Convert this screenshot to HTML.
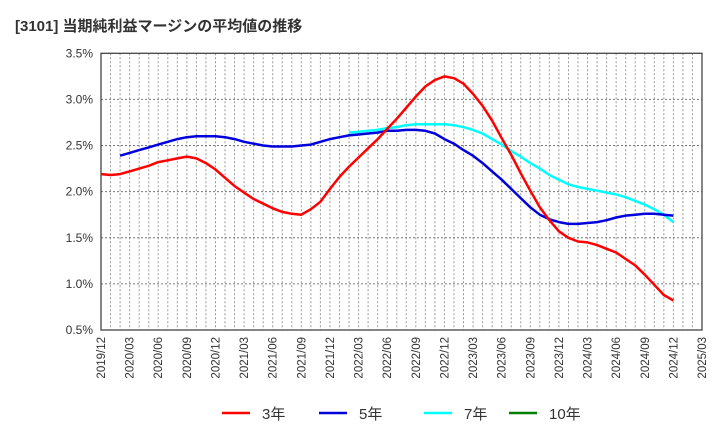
<!DOCTYPE html>
<html><head><meta charset="utf-8"><style>
body{margin:0;background:#fff;}
svg text{font-family:"Liberation Sans","Noto Sans CJK JP",sans-serif;}
</style></head><body>
<svg id="c" width="720" height="440" xmlns="http://www.w3.org/2000/svg">
<text x="15" y="31" font-size="15" font-weight="bold" fill="#333">[3101]  当期純利益マージンの平均値の推移</text>
<g id="grid"></g><g id="axes"></g><g id="series"></g><g id="legend"></g>
</svg>
<script>
const xLabels=["2019/12","2020/03","2020/06","2020/09","2020/12","2021/03","2021/06","2021/09","2021/12","2022/03","2022/06","2022/09","2022/12","2023/03","2023/06","2023/09","2023/12","2024/03","2024/06","2024/09","2024/12","2025/03"];
const yTicks=[0.5,1.0,1.5,2.0,2.5,3.0,3.5];
const s3=[2.19,2.18,2.19,2.22,2.25,2.28,2.32,2.34,2.36,2.38,2.36,2.31,2.24,2.15,2.06,1.99,1.92,1.87,1.82,1.78,1.76,1.75,1.81,1.89,2.03,2.16,2.27,2.37,2.47,2.57,2.68,2.79,2.91,3.03,3.14,3.21,3.25,3.23,3.17,3.06,2.93,2.77,2.58,2.40,2.20,2.01,1.83,1.69,1.57,1.50,1.46,1.45,1.42,1.38,1.34,1.27,1.20,1.10,0.99,0.88,0.82];
const s5=[null,null,2.39,2.42,2.45,2.48,2.51,2.54,2.57,2.59,2.60,2.60,2.60,2.59,2.57,2.54,2.52,2.50,2.49,2.49,2.49,2.50,2.51,2.54,2.57,2.59,2.61,2.62,2.63,2.64,2.66,2.66,2.67,2.67,2.66,2.63,2.57,2.52,2.45,2.39,2.31,2.22,2.13,2.03,1.93,1.83,1.75,1.70,1.67,1.65,1.65,1.66,1.67,1.69,1.72,1.74,1.75,1.76,1.76,1.75,1.74];
const s7start=26;
const s7=[2.64,2.65,2.66,2.67,2.69,2.70,2.72,2.73,2.73,2.73,2.73,2.72,2.70,2.67,2.63,2.57,2.51,2.44,2.38,2.31,2.25,2.18,2.13,2.08,2.05,2.03,2.01,1.99,1.97,1.94,1.90,1.86,1.81,1.75,1.67];
const s10=[];
const L=101,R=702,T=53.3,B=330,NM=63;
const NS="http://www.w3.org/2000/svg";
function xS(i){return L+(R-L)*i/NM;}
function yS(v){return B-(v-0.5)/3.0*(B-T);}
function mk(tag,attrs,parent){const e=document.createElementNS(NS,tag);for(const k in attrs)e.setAttribute(k,attrs[k]);parent.appendChild(e);return e;}
const grid=document.getElementById('grid'),axes=document.getElementById('axes'),ser=document.getElementById('series'),leg=document.getElementById('legend');
for(let m=1;m<NM;m++){const l=mk('line',{x1:xS(m),x2:xS(m),y1:T,y2:B,stroke:'#999','stroke-dasharray':'2,2','stroke-width':1},grid);

}
yTicks.forEach(v=>{const y=yS(v);
if(v>0.5&&v<3.5){const l=mk('line',{x1:L,x2:R,y1:y,y2:y,stroke:'#777','stroke-dasharray':'2,2','stroke-width':1},grid);

}
const t=mk('text',{x:L-8,y:y+4,'text-anchor':'end','font-size':12,fill:'#333'},axes);t.textContent=v.toFixed(1)+'%';

});
xLabels.forEach((lb,i)=>{const x=xS(i*3);const t=mk('text',{x:0,y:0,transform:`translate(${x+4},${B+7}) rotate(-90)`,'text-anchor':'end','font-size':11.5,fill:'#333'},axes);t.textContent=lb;

});
const fr=mk('rect',{x:L,y:T,width:R-L,height:B-T,fill:'none',stroke:'#444','stroke-width':1.3},axes);


function path(arr,off,color,name){let d='';arr.forEach((v,i)=>{if(v==null)return;d+=(d?'L':'M')+xS(i+off).toFixed(1)+','+yS(v).toFixed(1);});
if(!d)return;const p=mk('path',{d:d,fill:'none',stroke:color,'stroke-width':2.5,'stroke-linejoin':'round'},ser);

}
path(s7,s7start,'#00ffff','series-7yr');
path(s5,0,'#0000dd','series-5yr');
path(s3,0,'#ff0000','series-3yr');
path(s10,0,'#008000','series-10yr');
[['3年','#ff0000',222],['5年','#0000dd',319],['7年','#00ffff',424],['10年','#008000',509]].forEach(([n,c,x])=>{
const g=mk('g',{},leg);


mk('line',{x1:x,x2:x+28,y1:413,y2:413,stroke:c,'stroke-width':2.5},g);
const t=mk('text',{x:x+40,y:419,'font-size':15,fill:'#333'},g);t.textContent=n;});
</script>
</body></html>
